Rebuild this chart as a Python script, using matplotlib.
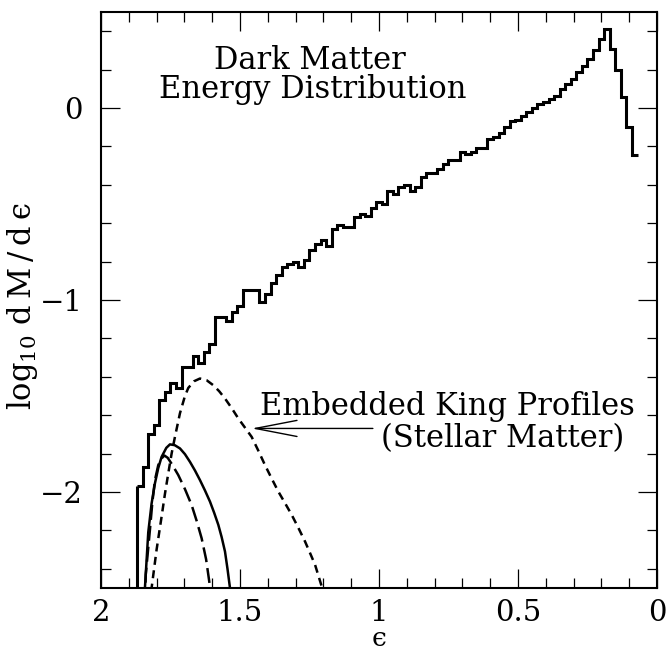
import matplotlib
matplotlib.use("Agg")
import matplotlib.pyplot as plt
import numpy as np
from matplotlib.ticker import MultipleLocator

plt.rcParams['font.family'] = ['DejaVu Serif']
plt.rcParams['mathtext.fontset'] = 'dejavuserif'

# dark matter histogram, bins of 0.02 in epsilon, from 1.87 down to 0.07
eps_hi, eps_lo = 1.87, 0.07
hist_vals = [
    -1.97, -1.87, -1.70, -1.65, -1.52, -1.48, -1.43, -1.46, -1.35, -1.35,
    -1.29, -1.33, -1.27, -1.23, -1.09, -1.09, -1.11, -1.06, -1.03, -0.95,
    -0.95, -0.95, -1.01, -0.97, -0.91, -0.87, -0.83, -0.81, -0.80, -0.83,
    -0.79, -0.74, -0.71, -0.69, -0.72, -0.63, -0.61, -0.62, -0.62, -0.57,
    -0.55, -0.56, -0.52, -0.49, -0.50, -0.43, -0.45, -0.41, -0.40, -0.43,
    -0.41, -0.36, -0.34, -0.34, -0.32, -0.29, -0.27, -0.27, -0.23, -0.24,
    -0.23, -0.21, -0.21, -0.16, -0.15, -0.13, -0.10, -0.07, -0.06, -0.04,
    -0.02, 0.00, 0.02, 0.03, 0.045, 0.064, 0.10, 0.125, 0.15, 0.185,
    0.22, 0.255, 0.30, 0.357, 0.409, 0.305, 0.198, 0.055, -0.097, -0.247,
]

# King profiles (stellar matter)
king_a_eps = [1.850, 1.842, 1.830, 1.818, 1.806, 1.794, 1.782, 1.765, 1.752, 1.735, 1.716, 1.698,
              1.680, 1.662, 1.644, 1.626, 1.608, 1.593, 1.578, 1.566, 1.554, 1.545, 1.536, 1.530]
king_a_val = [-2.80, -2.50, -2.21, -2.06, -1.955, -1.875, -1.817, -1.770, -1.752, -1.756, -1.773, -1.803,
              -1.843, -1.888, -1.938, -1.992, -2.050, -2.108, -2.171, -2.235, -2.310, -2.400, -2.500, -2.57]

king_b_eps = [1.846, 1.839, 1.824, 1.815, 1.806, 1.794, 1.782, 1.772, 1.760, 1.745, 1.722, 1.698,
              1.674, 1.656, 1.638, 1.622, 1.608, 1.600]
king_b_val = [-2.80, -2.43, -2.197, -2.05, -1.938, -1.860, -1.825, -1.810, -1.822, -1.855, -1.912, -1.985,
              -2.068, -2.150, -2.241, -2.350, -2.492, -2.57]

king_c_eps = [1.825, 1.818, 1.800, 1.782, 1.770, 1.758, 1.746, 1.734, 1.716, 1.698, 1.686, 1.665, 1.644,
              1.620, 1.596, 1.575, 1.554, 1.530, 1.506, 1.482, 1.458, 1.434, 1.410, 1.386, 1.362,
              1.338, 1.314, 1.290, 1.266, 1.248, 1.230, 1.206, 1.198]
king_c_val = [-2.80, -2.50, -2.30, -2.128, -2.01, -1.903, -1.800, -1.713, -1.590, -1.500, -1.458, -1.423, -1.409,
              -1.418, -1.444, -1.475, -1.513, -1.563, -1.617, -1.665, -1.713, -1.785, -1.860, -1.930, -1.998,
              -2.058, -2.119, -2.187, -2.258, -2.318, -2.379, -2.492, -2.55]

FS = 22

fig = plt.figure(figsize=(6.68, 6.55), dpi=100)
ax = fig.add_axes([0.1512, 0.1023, 0.8323, 0.8794])

edges = np.linspace(eps_hi, eps_lo, len(hist_vals) + 1)
ax.stairs(hist_vals[::-1], edges[::-1], baseline=None, color='black', lw=2.2)
ax.vlines(edges[0], -2.6, hist_vals[0], color='black', lw=2.2)

ax.plot(king_a_eps, king_a_val, color='black', lw=1.8, ls='-')
ax.plot(king_b_eps, king_b_val, color='black', lw=1.8, ls=(0, (6.0, 2.4)))
ax.plot(king_c_eps, king_c_val, color='black', lw=1.8, ls=(0, (3.2, 2.2)))

ax.set_xlim(2, 0)
ax.set_ylim(-2.5, 0.5)
ax.xaxis.set_major_locator(MultipleLocator(0.5))
ax.xaxis.set_minor_locator(MultipleLocator(0.1))
ax.yaxis.set_major_locator(MultipleLocator(1))
ax.yaxis.set_minor_locator(MultipleLocator(0.2))
ax.tick_params(which='both', direction='in', top=True, right=True, width=0.9, labelsize=21)
ax.tick_params(which='major', length=13.5)
ax.tick_params(which='minor', length=7)
ax.tick_params(axis='x', pad=8)
ax.tick_params(axis='y', pad=13)
ax.xaxis.set_major_formatter(plt.FuncFormatter(lambda v, p: f"{v:g}"))
for s in ax.spines.values():
    s.set_linewidth(1.5)

ax.set_xlabel('\u03f5', fontsize=19, va='baseline')
ax.xaxis.set_label_coords(0.5, -0.101)
ax.set_ylabel('log$_{10}$ d\u2009M\u2009/\u2009d\u2009\u03f5', fontsize=FS)
ax.yaxis.set_label_coords(-0.110, 0.49)

ax.text(1.248, 0.202, 'Dark Matter', ha='center', va='baseline', fontsize=FS)
ax.text(1.237, 0.050, 'Energy Distribution', ha='center', va='baseline', fontsize=FS)
ax.text(1.428, -1.600, 'Embedded King Profiles', ha='left', va='baseline', fontsize=FS)
ax.text(0.992, -1.765, '(Stellar Matter)', ha='left', va='baseline', fontsize=FS)
ax.annotate('', xy=(1.458, -1.669), xytext=(1.022, -1.669),
            arrowprops=dict(arrowstyle='->,head_length=3.0,head_width=0.58',
                            mutation_scale=10, color='black', lw=1.0,
                            shrinkA=0, shrinkB=0))

fig.savefig('out.png', dpi=100)
